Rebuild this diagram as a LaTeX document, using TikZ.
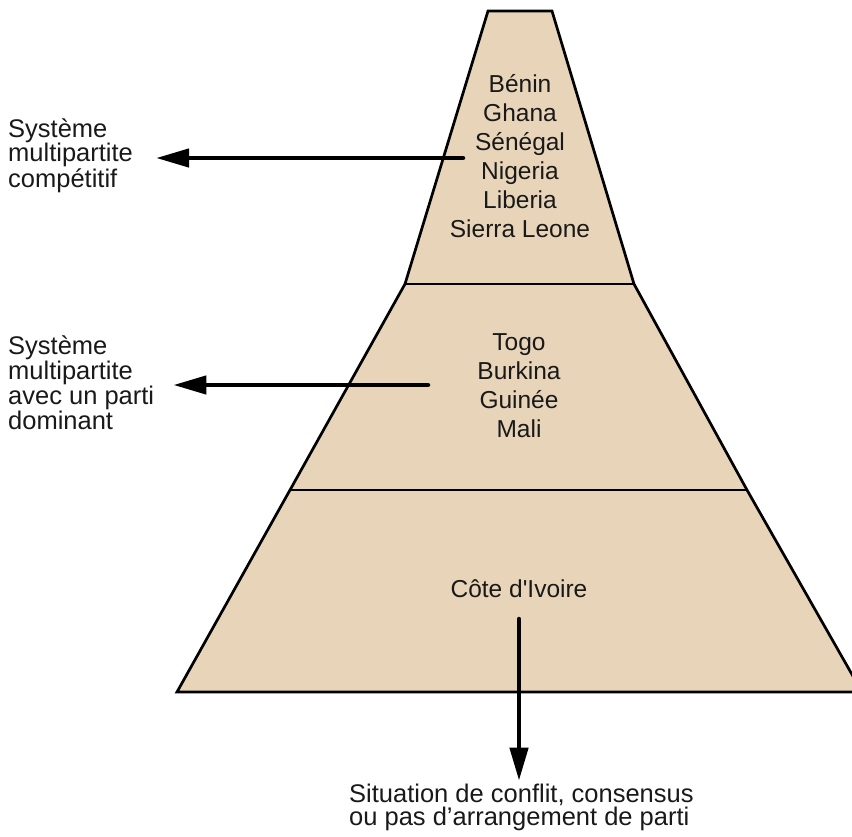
\documentclass[tikz,border=0pt]{standalone}
\usepackage{fontspec}
\setmainfont{Liberation Sans}
\newfontfamily\ivoirefont{Liberation Sans}
\usepackage{tikz}
\usetikzlibrary{arrows.meta,calc,positioning}
\definecolor{sand}{RGB}{232,213,185}
\tikzstyle{layer}=[
  draw=black,
  fill=sand,
  line width=2.7pt,
  line join=miter,
]
\tikzstyle{divider}=[
  draw=black,
  line width=2.7pt,
]
\tikzstyle{countries}=[
  align=center,
  anchor=base,
  inner sep=0pt,
  text=black!90,
  font={\fontsize{24.5}{29}\selectfont},
]
\tikzstyle{sidetext}=[
  align=left,
  anchor=base west,
  inner sep=0pt,
  text=black!90,
  font={\fontsize{25.5}{22.7}\selectfont},
]
\tikzstyle{arrow}=[
  color=black,
  line width=4.5pt,
  line cap=round,
]
\tikzset{
  >={Triangle[length=33pt,width=18pt]},
}
\begin{document}
\begin{tikzpicture}[x=1pt,y=-1pt]
  \useasboundingbox (0,0) rectangle (852,836);
  % pyramid outline
  \coordinate (topl) at (488,11);
  \coordinate (topr) at (552,11);
  \coordinate (upl) at (405,284);
  \coordinate (upr) at (634,284);
  \coordinate (midl) at (290,490);
  \coordinate (midr) at (747,490);
  \coordinate (basel) at (177,692);
  \coordinate (baser) at (862,692);
  \draw [layer] (topl) -- (topr) -- (upr) -- (midr) -- (baser) -- (basel) -- (midl) -- (upl) -- cycle;
  \draw [divider] (upl) -- (upr);
  \draw [divider] (midl) -- (midr);
  % country lists (base = last line)
  \node (toplist) [countries] at (520,237) {Bénin\\Ghana\\Sénégal\\Nigeria\\Liberia\\Sierra Leone};
  \node (midlist) [countries] at (519,437) {Togo\\Burkina\\Guinée\\Mali};
  \node (lowlist) [countries, font={\ivoirefont\fontsize{24.5}{29}\selectfont}] at (519,597) {Côte d'Ivoire};
  % party systems
  \node (sys1) [sidetext] at (8,187) {Système\\multipartite\\compétitif};
  \node (sys2) [sidetext] at (8,429) {Système\\multipartite\\avec un parti\\dominant};
  \node (sit) [sidetext] at (349,825) {Situation de conflit, consensus\\ou pas d’arrangement de parti};
  \coordinate (from1) at (463,158);
  \coordinate (from2) at (428,385);
  \coordinate (from3) at (519,619);
  \draw [->, arrow] (from1) -- ([xshift=23pt]from1 -| sys1.east);
  \draw [->, arrow] (from2) -- ([xshift=19pt]from2 -| sys2.east);
  \draw [->, arrow] (from3) -- ([yshift=3pt]from3 |- sit.north);
\end{tikzpicture}
\end{document}
